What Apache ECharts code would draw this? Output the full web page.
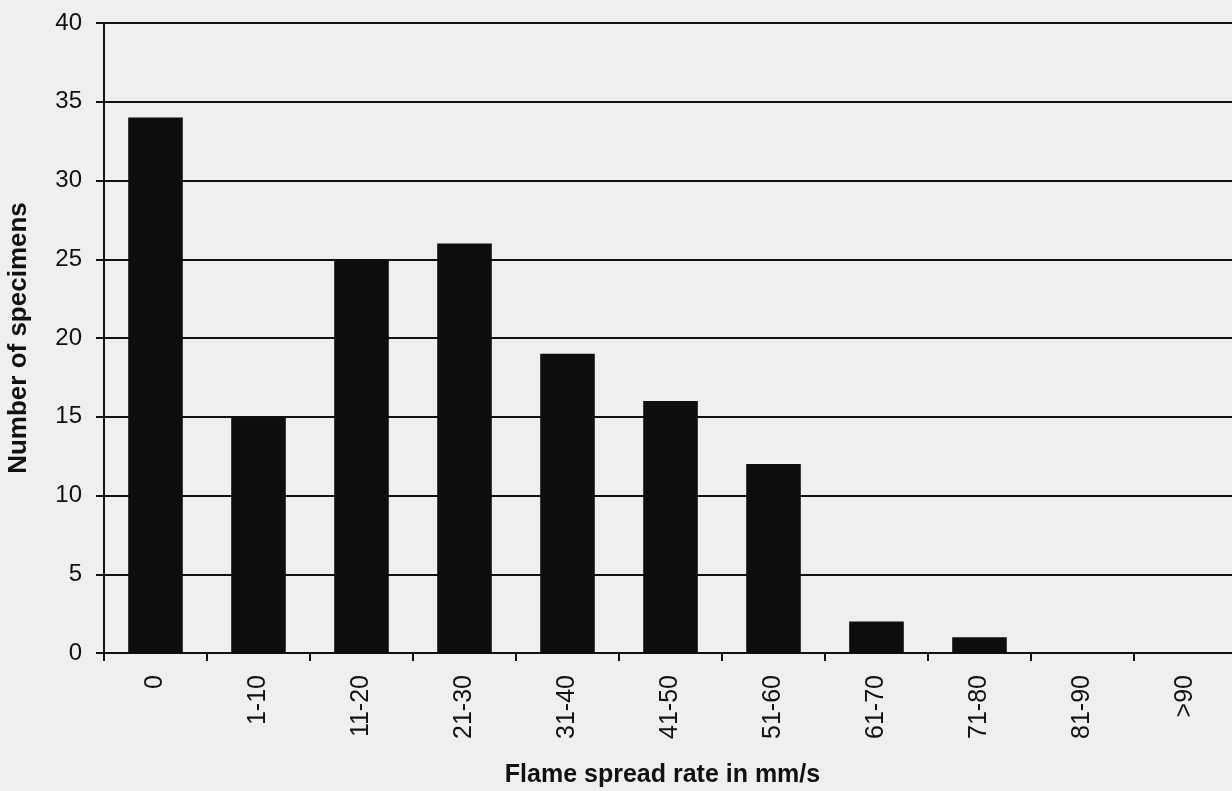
<!DOCTYPE html>
<html><head><meta charset="utf-8">
<script src="https://cdn.jsdelivr.net/npm/echarts@6/dist/echarts.min.js"></script>
<style>html,body{margin:0;padding:0;background:#efefed;}#c{width:1232px;height:791px;}</style>
</head><body><div id="c"></div>
<script>
const categories = ['0','1-10','11-20','21-30','31-40','41-50','51-60','61-70','71-80','81-90','>90'];
const specimens = [34,15,25,26,19,16,12,2,1,0,0];
const yTicks = [0,5,10,15,20,25,30,35,40];

const chart = echarts.init(document.getElementById('c'));
chart.setOption({
  backgroundColor: '#efefed',
  animation: false,
  grid: {left: 104, top: 23, bottom: 138, width: 1133, containLabel: false, outerBoundsMode: 'none'},
  xAxis: {
    type: 'category', data: categories, boundaryGap: true,
    name: 'Flame spread rate in mm/s', nameLocation: 'middle', nameGap: 110,
    nameTextStyle: {fontFamily: 'Liberation Sans', fontWeight: 'bold', fontSize: 25, color: '#111', padding: [0, 16, 0, 0]},
    axisLine: {lineStyle: {color: '#111', width: 2}},
    axisTick: {show: true, alignWithLabel: false, length: 8, lineStyle: {color: '#111', width: 2}},
    axisLabel: {rotate: 90, margin: 22, fontFamily: 'Liberation Sans', fontSize: 25, color: '#111', interval: 0}
  },
  yAxis: {
    type: 'value', min: yTicks[0], max: yTicks[yTicks.length-1], interval: 5,
    name: 'Number of specimens', nameLocation: 'middle', nameGap: 72,
    nameTextStyle: {fontFamily: 'Liberation Sans', fontWeight: 'bold', fontSize: 26, color: '#111'},
    axisLine: {show: true, lineStyle: {color: '#111', width: 2}},
    axisTick: {show: true, length: 8, lineStyle: {color: '#111', width: 2}},
    axisLabel: {margin: 22, fontFamily: 'Liberation Sans', fontSize: 24, color: '#111'},
    splitLine: {show: true, lineStyle: {color: '#111', width: 2}}
  },
  series: [{
    type: 'bar', data: specimens, barWidth: '53%',
    itemStyle: {color: '#0d0d0d'}
  }]
});
</script></body></html>
